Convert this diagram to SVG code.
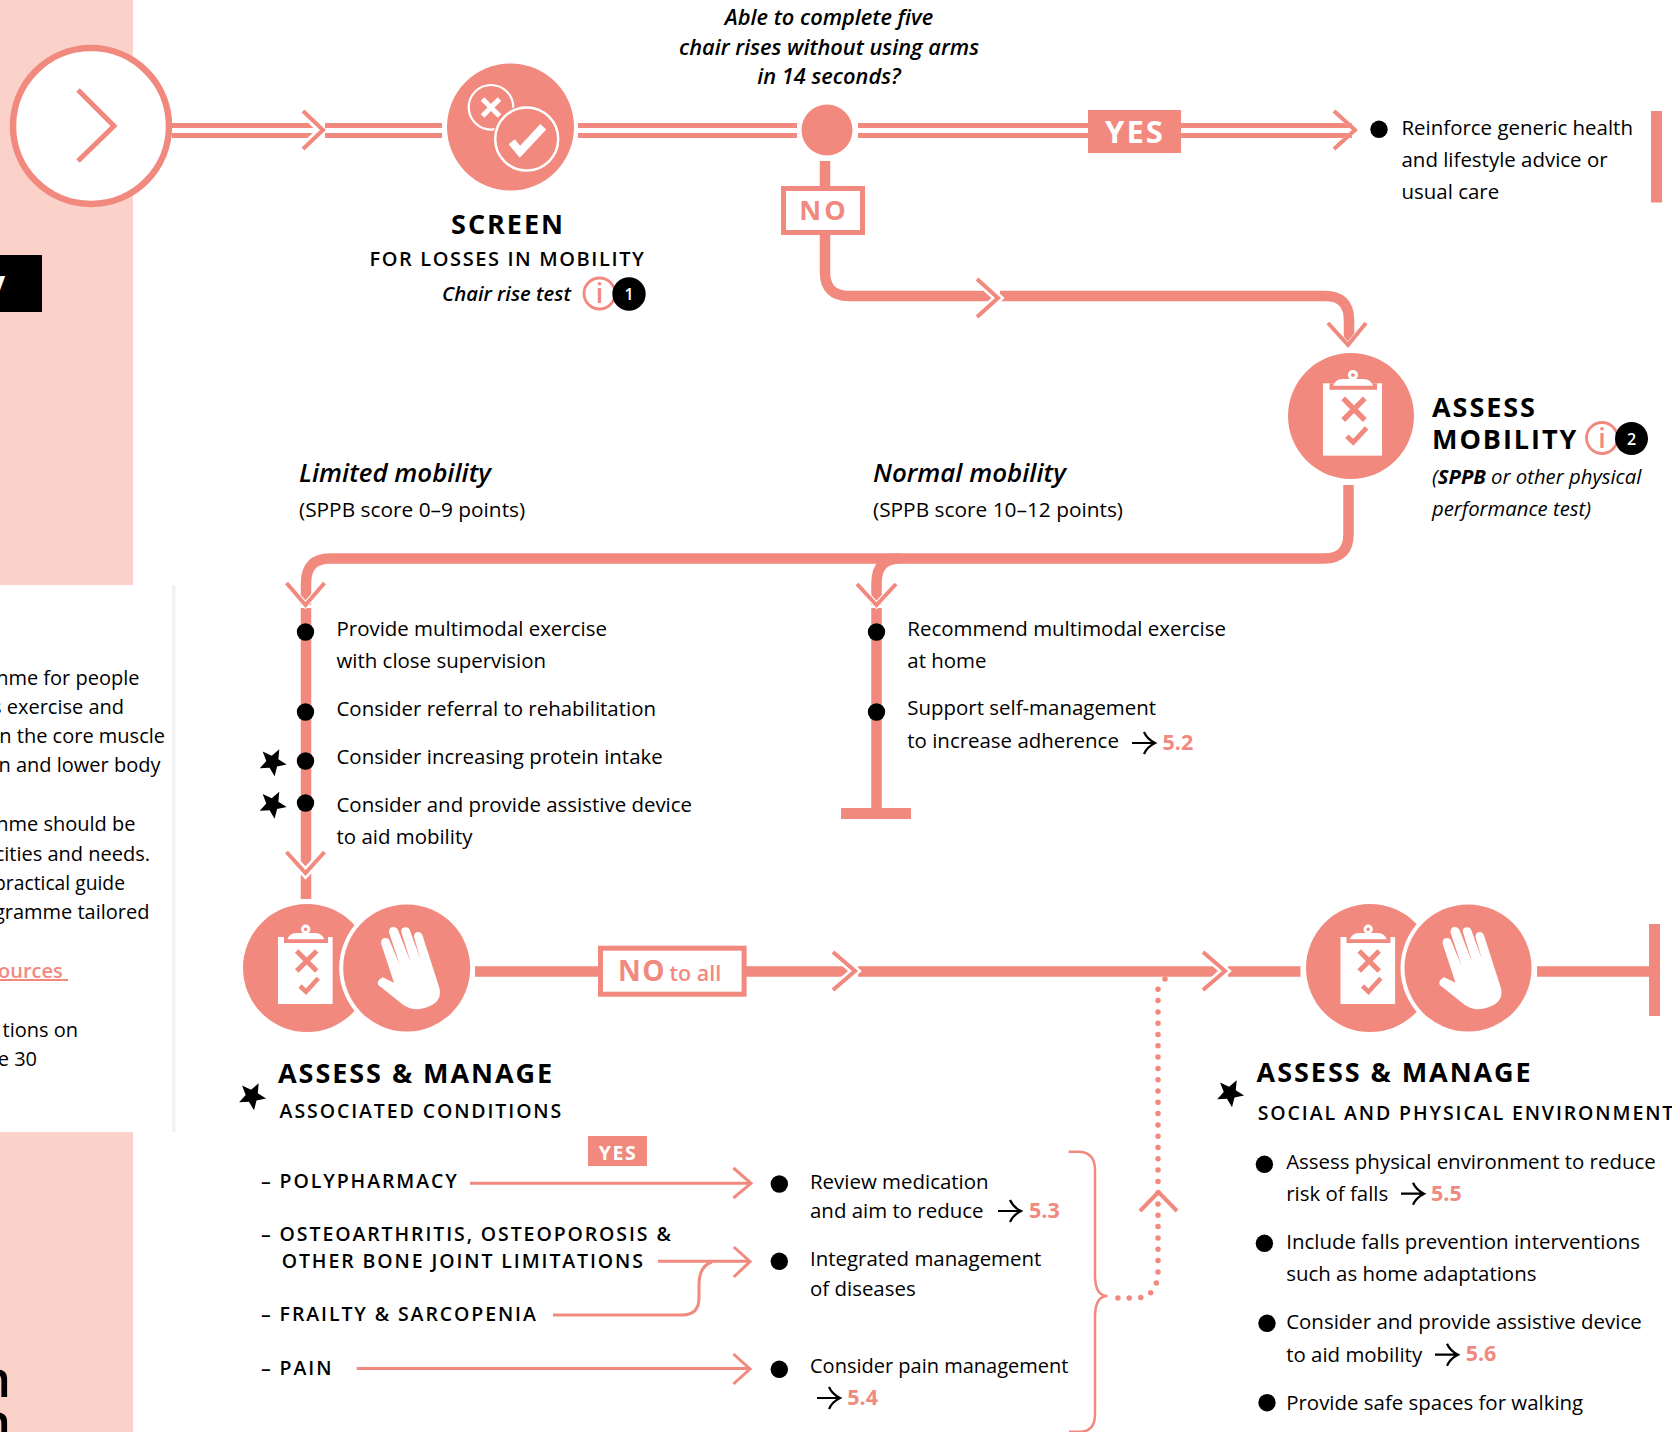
<svg xmlns="http://www.w3.org/2000/svg" xmlns:xlink="http://www.w3.org/1999/xlink" width="1672" height="1432" viewBox="0 0 1672 1432">
<style>
text{font-family:"Open Sans","Noto Sans","Liberation Sans",sans-serif;fill:#000}
.a{font-size:20px}
.b{font-size:20.45px}
.u{font-size:20.85px}
.i{font-size:20.3px;font-style:italic}
.q{font-size:21.8px;font-style:italic;font-weight:600}
.m{font-size:25.9px;font-style:italic;font-weight:600}
.h{font-size:27px;font-weight:700;letter-spacing:1.95px}
.s{font-size:20px;font-weight:600;letter-spacing:1.6px}
.c{font-size:19.5px;font-weight:600;letter-spacing:1.9px}
.r{font-size:21.5px;font-weight:700;fill:#f1897e}
.w{fill:#fff;font-weight:700}
.p{fill:#f1897e;font-weight:700}
.lk{font-size:20px;fill:#f1897e;font-weight:600;text-decoration:underline}
.n{font-size:50px;font-weight:600}
.t{stroke:#f1897e;fill:none;stroke-width:10.5}
.d{stroke:#f1897e;fill:none;stroke-width:5}
.l{stroke:#f1897e;fill:none;stroke-width:3}
.h0{stroke:#fff;fill:none;stroke-width:10}
.ch{stroke:#f1897e;fill:none;stroke-width:4}
.ch2{stroke:#f1897e;fill:none;stroke-width:3}
.pk{fill:#f1897e}
</style>
<defs>
<path id="star" d="M0,14.500L-3.800,5.200L-13.600,4.500L-6.100,-1.900L-8.400,-11.700L0,-6.400L8.400,-11.700L6.100,-1.900L13.600,4.500L3.800,5.200Z" transform="rotate(-8)"/>
<path id="arr" d="M0,0H22M12,-11Q15,-4 23,0Q15,4 12,11" fill="none" stroke="#000" stroke-width="2.2"/>
<g id="clip">
<rect x="-27.3" y="-34" width="54.6" height="67" fill="#fff"/>
<rect x="-21.3" y="-34" width="44" height="6" fill="#f1897e"/>
<circle cx="0.4" cy="-41.700" r="3.200" fill="none" stroke="#fff" stroke-width="3"/>
<path d="M-18,-31.700Q-16,-37.700 -9,-38H10Q17,-37.700 19,-31.700Z" fill="#fff"/>
<path d="M-8.600,-20L11.400,0M11.400,-20L-8.600,0" stroke="#f1897e" stroke-width="5" fill="none"/>
<path d="M-5.300,15L0.700,20.700L13,7.300" stroke="#f1897e" stroke-width="4.500" fill="none"/>
</g>
<path id="hand" fill="#fff" d="M378.300,985Q376,981 382.700,977.300L394,982.700L381,943.300Q381,938 385.700,938Q389,938 390,941.700L400,965.700L389,932.300Q389,927 393.300,927Q397,927 398.300,930.700L410.700,962.300L401.300,931.700Q401,927.300 405.700,927.300Q409,927 410,930.700L420.300,959L414,936.700Q414,932 418.300,932Q421.500,932 422.700,936L439,986.700Q443,1000 430,1006Q420,1010 413.300,1009Q408,1008 403.300,1005Z"/>
</defs>
<rect x="0" y="0" width="1672" height="1432" fill="#fff"/>
<g id="panel">
<rect x="0" y="0" width="133" height="585" fill="#fad2ca"/>
<rect x="0" y="1132" width="133" height="300" fill="#fad2ca"/>
<rect x="172" y="585" width="3.500" height="547" fill="#f2f2f2"/>
<rect x="0" y="255" width="42" height="57" fill="#000"/>
<text x="5" y="293" text-anchor="end" class="w" style="font-size:30px">y</text>
<text class="a" text-anchor="end" x="139.500" y="685">nme for people</text>
<text class="a" text-anchor="end" x="124" y="714">s exercise and</text>
<text class="a" text-anchor="end" x="165" y="743">n the core muscle</text>
<text class="a" text-anchor="end" x="160.500" y="772">n and lower body</text>
<text class="a" text-anchor="end" x="135.500" y="831">nme should be</text>
<text class="a" text-anchor="end" x="150" y="861">cities and needs.</text>
<text class="a" text-anchor="end" x="125" y="890" style="font-size:19.300px">practical guide</text>
<text class="a" text-anchor="end" x="149.500" y="919">gramme tailored</text>
<text class="lk" text-anchor="end" x="68" y="978" xml:space="preserve">ources </text>
<text class="a" text-anchor="end" x="78" y="1037">tions on</text>
<text class="a" text-anchor="end" x="37" y="1066">e 30</text>
<text class="n" text-anchor="end" x="11" y="1397">n</text>
<text class="n" text-anchor="end" x="11" y="1440">n</text>
</g>
<g id="connectors">
<path class="d" d="M172,125.500H320M172,135.500H320M578,125.500H797M578,135.500H797M858,125.500H1352M858,135.500H1352"/>
<path class="h0" d="M303,111L323,130L303,149"/>
<path class="ch" d="M303,111L323,130L303,149"/>
<path class="d" d="M325,125.500H442M325,135.500H442"/>
<rect x="1088" y="110" width="93" height="43" class="pk"/>
<path class="h0" style="stroke-width:4" d="M1334,111L1355,130L1334,149"/>
<path class="ch" d="M1334,111L1355,130L1334,149"/>
<path class="t" d="M825,161V186M825,235V272Q825,296 849,296H996M1000,296H1325Q1349,296 1349,320V342"/>
<path class="h0" style="stroke-width:9" d="M977,279L998,298L977,317"/>
<path class="ch" d="M977,279L998,298L977,317"/>
<path class="h0" style="stroke-width:5" d="M1328,323L1348,345L1366,323"/>
<path class="ch" d="M1328,323L1348,345L1366,323"/>
<rect x="783.500" y="188.500" width="79" height="44" fill="#fff" stroke="#f1897e" stroke-width="5"/>
<path class="t" d="M1348.500,485V534Q1348.500,558.500 1324,558.500H330Q306,558.500 306,583V605M306,608V899"/>
<path class="t" d="M900,558.500Q876.500,558.500 876.500,583V605M876.500,608V810"/>
<path class="h0" style="stroke-width:6" d="M286.500,583L305.500,605L324.500,583"/>
<path class="ch" d="M286.500,583L305.500,605L324.500,583"/>
<path class="h0" style="stroke-width:6" d="M857,584L876.500,605L896,584"/>
<path class="ch" d="M857,584L876.500,605L896,584"/>
<path class="h0" style="stroke-width:9" d="M286.500,852L305.500,873L324.500,852"/>
<path class="ch" d="M286.500,852L305.500,873L324.500,852"/>
<rect x="841" y="808" width="70" height="11" class="pk"/>
<path class="t" d="M475,971.500H853M858,971.500H1223M1228,971.500H1300.500M1537,971.500H1650"/>
<path class="h0" style="stroke-width:9" d="M833,952L855,971L833,990"/>
<path class="ch" d="M833,952L855,971L833,990"/>
<path class="h0" style="stroke-width:9" d="M1203,952L1225,971L1203,990"/>
<path class="ch" d="M1203,952L1225,971L1203,990"/>
<rect x="1649" y="924" width="11" height="92" class="pk"/>
<rect x="600.500" y="948.200" width="143.600" height="46" fill="#fff" stroke="#f1897e" stroke-width="5"/>
<path d="M1158,989.300V1270Q1158,1298 1135,1298H1111" fill="none" stroke="#f1897e" stroke-width="5.500" stroke-linecap="round" stroke-dasharray="0 11.300"/>
<circle cx="1165" cy="979" r="2.750" class="pk"/>
<path class="ch" d="M1140,1211L1158.500,1192L1177,1211"/>
<path class="l" style="stroke-width:2.500" d="M1068.600,1151.700H1078Q1095,1151.700 1095,1170V1275Q1095,1296 1107.500,1296Q1095,1296 1095,1317V1414Q1095,1431 1081,1431.700H1069"/>
<path class="l" d="M470,1183.300H751"/>
<path class="ch2" d="M733.400,1168L751,1183.300L733.400,1198"/>
<path class="l" d="M658,1261.300H749"/>
<path class="ch2" d="M733.800,1247L750,1261.500L733.800,1277"/>
<path class="l" d="M553,1315H682Q699,1315 699,1298V1285Q699,1266 712,1262"/>
<path class="l" d="M356.700,1368.500H750"/>
<path class="ch2" d="M733.400,1354L750,1369L733.400,1384"/>
</g>
<g id="start">
<circle cx="91" cy="126" r="78" fill="#fff" stroke="#f1897e" stroke-width="6.500"/>
<path d="M78,90L114,126L78,161" fill="none" stroke="#f1897e" stroke-width="5"/>
</g>
<g id="screen">
<circle cx="510.500" cy="127" r="63.500" class="pk"/>
<circle cx="491" cy="107.300" r="22.300" fill="none" stroke="#fff" stroke-width="2.200"/>
<path d="M482.500,99L499.500,116M499.500,99L482.500,116" stroke="#fff" stroke-width="5"/>
<circle cx="526.700" cy="139" r="34" class="pk"/>
<circle cx="526.700" cy="139" r="31.500" fill="none" stroke="#fff" stroke-width="2.500"/>
<path d="M511.700,141.700L520,151.700L543.300,126.700" fill="none" stroke="#fff" stroke-width="8"/>
<text x="508" y="234" text-anchor="middle" class="h">SCREEN</text>
<text x="507.500" y="266" text-anchor="middle" class="s">FOR LOSSES IN MOBILITY</text>
<text x="442" y="300.500" class="i" style="font-weight:600">Chair rise test</text>
<circle cx="599.500" cy="293.500" r="15.500" fill="#fff" stroke="#f1897e" stroke-width="2.800"/>
<text x="599.500" y="303" text-anchor="middle" class="p" style="font-size:27px;font-weight:600">i</text>
<circle cx="629" cy="294" r="16.700" fill="#000"/>
<text x="629" y="300" text-anchor="middle" class="w" style="font-size:16px;font-weight:600">1</text>
</g>
<g id="decision">
<circle cx="827" cy="130" r="25.500" class="pk"/>
<text x="829" y="25" text-anchor="middle" class="q">Able to complete five</text>
<text x="829" y="55" text-anchor="middle" class="q">chair rises without using arms</text>
<text x="829" y="84" text-anchor="middle" class="q">in 14 seconds?</text>
<text x="1135" y="143" text-anchor="middle" class="w" style="font-size:31px;letter-spacing:2px">YES</text>
<text x="824" y="220" text-anchor="middle" class="p" style="font-size:27px;letter-spacing:3px">NO</text>
</g>
<g id="usual-care">
<circle cx="1379" cy="129.300" r="8.700" fill="#000"/>
<text class="b" x="1401.500" y="135">Reinforce generic health</text>
<text class="b" x="1401.500" y="167">and lifestyle advice or</text>
<text class="b" x="1401.500" y="199">usual care</text>
<rect x="1651" y="111" width="11" height="91.500" class="pk"/>
</g>
<g id="assess-mobility">
<circle cx="1351" cy="416" r="63" class="pk"/>
<use xlink:href="#clip" href="#clip" transform="translate(1352.500,420) scale(1.080)"/>
<text x="1432" y="417" class="h">ASSESS</text>
<text x="1432" y="448.500" class="h">MOBILITY</text>
<circle cx="1602" cy="438" r="15.500" fill="#fff" stroke="#f1897e" stroke-width="2.800"/>
<text x="1602" y="448" text-anchor="middle" class="p" style="font-size:27px;font-weight:600">i</text>
<circle cx="1631.500" cy="438.500" r="16.500" fill="#000"/>
<text x="1631.500" y="444.500" text-anchor="middle" class="w" style="font-size:16px;font-weight:600">2</text>
<text x="1432" y="484" class="i">(<tspan font-weight="700">SPPB</tspan> or other physical</text>
<text x="1432" y="516" class="i">performance test)</text>
</g>
<g id="limited-mobility">
<text x="299" y="482" class="m">Limited mobility</text>
<text x="299" y="517" class="u">(SPPB score 0–9 points)</text>
<circle cx="305.500" cy="632" r="8.700" fill="#000"/>
<circle cx="305.500" cy="712" r="8.700" fill="#000"/>
<circle cx="305.500" cy="761" r="8.700" fill="#000"/>
<circle cx="305.500" cy="803" r="8.700" fill="#000"/>
<use xlink:href="#star" href="#star" transform="translate(272.600,762)"/>
<use xlink:href="#star" href="#star" transform="translate(272.600,804.500)"/>
<text class="b" x="336.500" y="636">Provide multimodal exercise</text>
<text class="b" x="336.500" y="668">with close supervision</text>
<text class="b" x="336.500" y="716">Consider referral to rehabilitation</text>
<text class="b" x="336.500" y="764">Consider increasing protein intake</text>
<text class="b" x="336.500" y="812">Consider and provide assistive device</text>
<text class="b" x="336.500" y="844">to aid mobility</text>
</g>
<g id="normal-mobility">
<text x="873" y="482" class="m">Normal mobility</text>
<text x="873" y="517" class="u">(SPPB score 10–12 points)</text>
<circle cx="876.500" cy="632" r="8.700" fill="#000"/>
<circle cx="876.500" cy="712" r="8.700" fill="#000"/>
<text class="b" x="907.300" y="636">Recommend multimodal exercise</text>
<text class="b" x="907.300" y="668">at home</text>
<text class="b" x="907.300" y="715">Support self-management</text>
<text class="b" x="907.300" y="747.500">to increase adherence</text>
<use xlink:href="#arr" href="#arr" transform="translate(1132,743)"/>
<text class="r" x="1162.500" y="750">5.2</text>
</g>
<g id="assess-manage-conditions">
<circle cx="307" cy="968" r="64" class="pk"/>
<use xlink:href="#clip" href="#clip" transform="translate(305.300,971)"/>
<circle cx="406.700" cy="968" r="67.500" fill="#fff"/>
<circle cx="406.700" cy="968" r="63.500" class="pk"/>
<use xlink:href="#hand" href="#hand"/>
<text x="618" y="981" class="p" style="font-size:28px;letter-spacing:1.500px">NO</text>
<text x="669.500" y="981" class="p" style="font-size:21.500px;font-weight:600">to all</text>
<use xlink:href="#star" href="#star" transform="translate(252,1096)"/>
<text x="278" y="1082.500" class="h">ASSESS &amp; MANAGE</text>
<text x="279.600" y="1117.700" class="c">ASSOCIATED CONDITIONS</text>
<rect x="588" y="1136" width="59" height="30" class="pk"/>
<text x="618" y="1160" text-anchor="middle" class="w" style="font-size:19.500px;letter-spacing:1.500px">YES</text>
<text x="261" y="1187.700" class="c">– POLYPHARMACY</text>
<text x="261" y="1241" class="c">– OSTEOARTHRITIS, OSTEOPOROSIS &amp;</text>
<text x="281.700" y="1267.700" class="c">OTHER BONE JOINT LIMITATIONS</text>
<text x="261" y="1321" class="c">– FRAILTY &amp; SARCOPENIA</text>
<text x="261" y="1374.700" class="c">– PAIN</text>
<circle cx="779.300" cy="1184" r="8.700" fill="#000"/>
<circle cx="779.300" cy="1261.300" r="8.700" fill="#000"/>
<circle cx="779.300" cy="1369.300" r="8.700" fill="#000"/>
<text class="b" x="810" y="1189">Review medication</text>
<text class="b" x="810" y="1218.300">and aim to reduce</text>
<use xlink:href="#arr" href="#arr" transform="translate(998,1211)"/>
<text class="r" x="1029" y="1218">5.3</text>
<text class="b" x="810" y="1265.700">Integrated management</text>
<text class="b" x="810" y="1295.700">of diseases</text>
<text class="a" x="810" y="1373">Consider pain management</text>
<use xlink:href="#arr" href="#arr" transform="translate(817,1398)"/>
<text class="r" x="847.300" y="1405">5.4</text>
</g>
<g id="assess-manage-environment">
<circle cx="1370" cy="968" r="64" class="pk"/>
<use xlink:href="#clip" href="#clip" transform="translate(1367.800,971)"/>
<circle cx="1468" cy="968" r="67.500" fill="#fff"/>
<circle cx="1468" cy="968" r="63.500" class="pk"/>
<use xlink:href="#hand" href="#hand" transform="translate(1061.500,0)"/>
<use xlink:href="#star" href="#star" transform="translate(1230,1093)"/>
<text x="1256.600" y="1082" class="h">ASSESS &amp; MANAGE</text>
<text x="1257.700" y="1120" class="c">SOCIAL AND PHYSICAL ENVIRONMENT</text>
<circle cx="1264.400" cy="1164.300" r="8.700" fill="#000"/>
<circle cx="1264.400" cy="1243.300" r="8.700" fill="#000"/>
<circle cx="1267" cy="1323.300" r="8.700" fill="#000"/>
<circle cx="1267" cy="1402.700" r="8.700" fill="#000"/>
<text class="b" x="1286.200" y="1169">Assess physical environment to reduce</text>
<text class="b" x="1286.200" y="1201">risk of falls</text>
<use xlink:href="#arr" href="#arr" transform="translate(1401,1193.700)"/>
<text class="r" x="1431" y="1200.700">5.5</text>
<text class="b" x="1286.200" y="1249">Include falls prevention interventions</text>
<text class="b" x="1286.200" y="1281">such as home adaptations</text>
<text class="b" x="1286.200" y="1329">Consider and provide assistive device</text>
<text class="b" x="1286.200" y="1361.700">to aid mobility</text>
<use xlink:href="#arr" href="#arr" transform="translate(1435,1354.700)"/>
<text class="r" x="1465.700" y="1361">5.6</text>
<text class="b" x="1286.200" y="1410">Provide safe spaces for walking</text>
</g>
</svg>
